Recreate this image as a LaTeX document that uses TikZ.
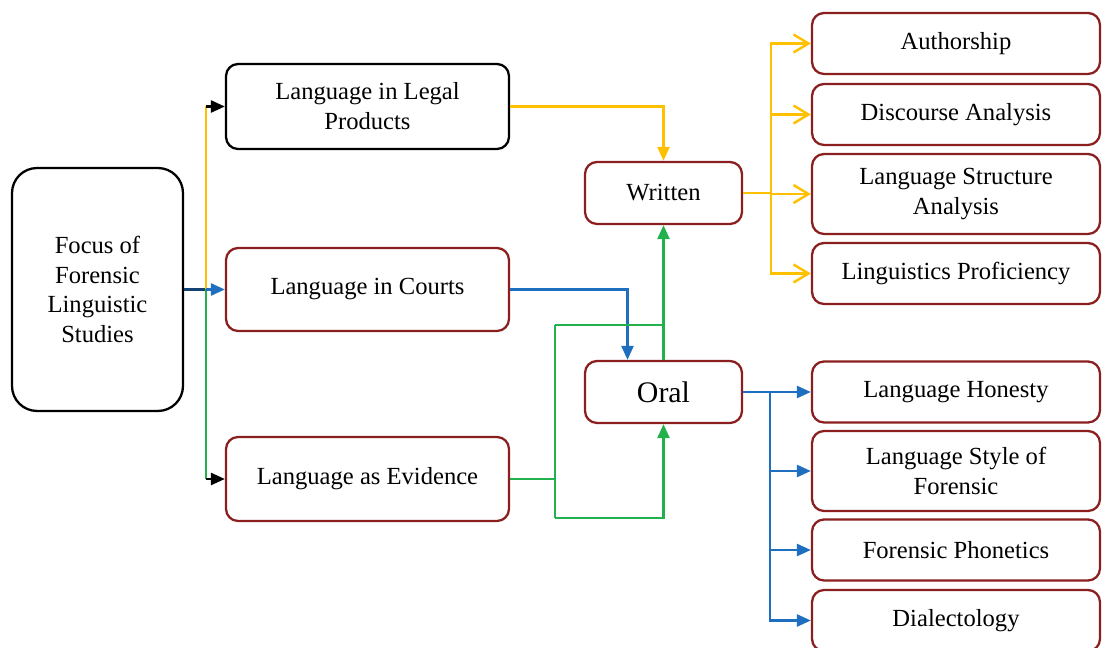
\documentclass[tikz,border=0pt]{standalone}
\usepackage{fontspec}
\setmainfont{Liberation Serif}
\usepackage{tikz}
\usetikzlibrary{arrows.meta,positioning,calc}
\definecolor{boxred}{HTML}{8B1E1E}
\definecolor{ylw}{HTML}{FFC000}
\definecolor{blu}{HTML}{1F6FC0}
\definecolor{grn}{HTML}{22B14C}

\begin{document}
\begin{tikzpicture}[x=0.02cm,y=-0.02cm,
  box/.style={rectangle,draw=boxred,line width=1.3pt,rounded corners=0.24cm,
              minimum width=5.76cm,minimum height=1.22cm,align=center,
              font=\fontsize{14}{17}\selectfont},
  tall/.style={minimum height=1.6cm},
  link/.style={line width=1.4pt},
  tri/.style={link,-{Triangle[length=2.8mm,width=2.4mm]}},
  barb/.style={link,color=ylw,-{Straight Barb[length=3mm,width=3.6mm]}}
]
\useasboundingbox (0,0) rectangle (1110,648);

\node[box,draw=black,rounded corners=0.5cm,minimum width=3.42cm,minimum height=4.86cm]
  (focus) at (97.5,289.5) {Focus of\\Forensic\\Linguistic\\Studies};
\node[box,draw=black,minimum width=5.66cm,minimum height=1.7cm] (legal) at (367.5,106.5) {Language in Legal\\Products};
\node[box,minimum width=5.66cm,minimum height=1.66cm] (courts) at (367.5,289.5) {Language in Courts};
\node[box,minimum width=5.66cm,minimum height=1.68cm] (evidence) at (367.5,479) {Language as Evidence};

\node[box,minimum width=3.14cm,minimum height=1.24cm] (written) at (663.5,193) {Written};
\node[box,minimum width=3.14cm,minimum height=1.24cm,font=\fontsize{17}{20}\selectfont] (oral) at (663.5,392) {Oral};

\node[box] (author)      at (956,43.5)  {Authorship};
\node[box] (discourse)   at (956,114.5) {Discourse Analysis};
\node[box,tall] (structure) at (956,194) {Language Structure\\Analysis};
\node[box] (proficiency) at (956,273.5) {Linguistics Proficiency};
\node[box] (honesty)     at (956,392)   {Language Honesty};
\node[box,tall] (style)  at (956,471)   {Language Style of\\Forensic};
\node[box] (phonetics)   at (956,550)   {Forensic Phonetics};
\node[box] (dialect)     at (956,620.5) {Dialectology};

\draw[link,color=blu!60!black] (focus.east) -- ++(22,0) coordinate (lt);
\draw[link,color=ylw] (lt) -- (lt |- legal.west);
\draw[link,color=grn] (lt) -- (lt |- evidence.west);
\draw[tri,color=black] (lt |- legal.west) -- (legal.west);
\draw[tri,color=black] (lt |- evidence.west) -- (evidence.west);
\draw[tri,color=blu] (lt) -- (courts.west);

\draw[tri,color=ylw] (legal.east) -| (written.north);
\draw[tri,color=blu] (courts.east) -| ($(oral.north)+(-36,0)$);

\coordinate (gtop) at (555,325);
\coordinate (gbot) at (555,518);
\draw[link,color=grn] (evidence.east) -- (evidence.east -| gtop);
\draw[link,color=grn] (gtop) -- (gbot);
\draw[link,color=grn] (gtop) -- (gtop -| oral.north);
\draw[tri,color=grn] (oral.north) -- (written.south);
\draw[tri,color=grn] (gbot) -| (oral.south);

\draw[link,color=ylw] (written.east) -- ++(28,0) coordinate (wt);
\foreach \n in {author,discourse,structure,proficiency}
  \draw[barb] (wt) |- (\n.west);

\draw[tri,color=blu] (oral.east) -- (honesty.west);
\coordinate (bt) at (770,392);
\foreach \n in {style,phonetics,dialect}
  \draw[tri,color=blu] (bt) |- (\n.west);
\end{tikzpicture}
\end{document}
